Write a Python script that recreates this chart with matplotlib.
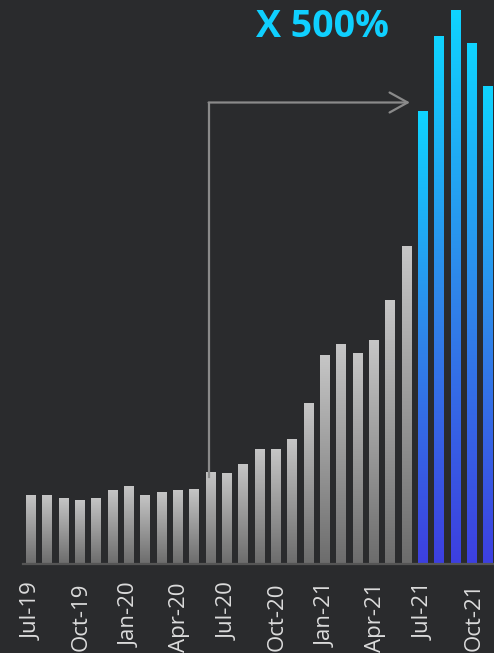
import numpy as np
import matplotlib
matplotlib.use("Agg")
import matplotlib.pyplot as plt
from matplotlib.colors import LinearSegmentedColormap
from matplotlib.transforms import ScaledTranslation

# Monthly volume index, Jul-19 .. Nov-21
months = ["Jul-19", "Aug-19", "Sep-19", "Oct-19", "Nov-19", "Dec-19",
          "Jan-20", "Feb-20", "Mar-20", "Apr-20", "May-20", "Jun-20",
          "Jul-20", "Aug-20", "Sep-20", "Oct-20", "Nov-20", "Dec-20",
          "Jan-21", "Feb-21", "Mar-21", "Apr-21", "May-21", "Jun-21",
          "Jul-21", "Aug-21", "Sep-21", "Oct-21", "Nov-21"]
values = [69, 69, 66, 64, 66, 74, 78, 69, 72, 74, 75, 92,
          91, 100, 115, 115, 125, 161, 209, 220, 211, 224, 264, 318,
          453, 528, 554, 521, 478]
highlight_from = "Jul-21"
arrow_from = "Jun-20"
headline = "X 500%"

BG = "#2a2b2d"
gray_cmap = LinearSegmentedColormap.from_list("grayfade", ["#6c6c6c", "#c6c6c6"])
blue_cmap = LinearSegmentedColormap.from_list("bluefade", ["#3d3fe0", "#2f86ea", "#0fd4ff"])

W, H, DPI = 494, 653, 100
fig = plt.figure(figsize=(W / DPI, H / DPI), dpi=DPI, facecolor=BG)

step = 16.34          # pixels per month
x0_px = 30.5          # centre of first bar
base_px = 564         # baseline row
ax = fig.add_axes([0, (H - base_px) / H, 1, base_px / H])
ax.set_facecolor(BG)

x = np.arange(len(months))
width = 0.56
hi = months.index(highlight_from)

bars = ax.bar(x, values, width=width, color="none", edgecolor="none", zorder=2)
grad = np.linspace(0, 1, 256).reshape(-1, 1)
for i, b in enumerate(bars):
    cmap = blue_cmap if i >= hi else gray_cmap
    im = ax.imshow(grad, extent=[b.get_x(), b.get_x() + b.get_width(), 0, b.get_height()],
                   origin="lower", aspect="auto", cmap=cmap, zorder=2, interpolation="bilinear")
    im.set_clip_path(b)

xmin = -x0_px / step
xmax = (W - x0_px) / step
ax.set_xlim(xmin, xmax)
ax.set_ylim(0, base_px)

# baseline
ax.plot([-0.46, xmax], [0, 0], color="#555555", lw=1.6, zorder=3, clip_on=False)

# growth arrow from Jun-20 to the Jul-21 jump
ia = months.index(arrow_from)
xv = ia - 0.1
y_line = 461.5
ax.plot([xv, xv], [values[ia] - 5, y_line], color="#8a8a8a", lw=1.6, zorder=3,
        solid_capstyle="projecting")
ax.annotate("", xy=(hi - 0.78, y_line), xytext=(xv, y_line),
            arrowprops=dict(arrowstyle="->,head_length=0.65,head_width=0.36",
                            mutation_scale=20, color="#8a8a8a", lw=1.6,
                            shrinkA=0, shrinkB=0), zorder=3)

ax.text(17.84, 537, headline, ha="center", va="center", color="#0fd0ff",
        fontsize=27, fontweight="bold", family=["Open Sans", "DejaVu Sans"])

tick_idx = list(range(0, len(months), 3))
ax.set_xticks(tick_idx)
ax.set_xticklabels([months[i] for i in tick_idx], rotation=90, ha="center", va="top",
                   color="#dcdcdc", fontsize=16, family=["Open Sans", "DejaVu Sans"])
ax.tick_params(axis="x", length=0, pad=13)
shift = ScaledTranslation(2 / DPI, 0, fig.dpi_scale_trans)
for lbl in ax.get_xticklabels():
    lbl.set_transform(lbl.get_transform() + shift)
ax.set_yticks([])
for s in ax.spines.values():
    s.set_visible(False)

fig.savefig("out.png", dpi=DPI, facecolor=BG)
